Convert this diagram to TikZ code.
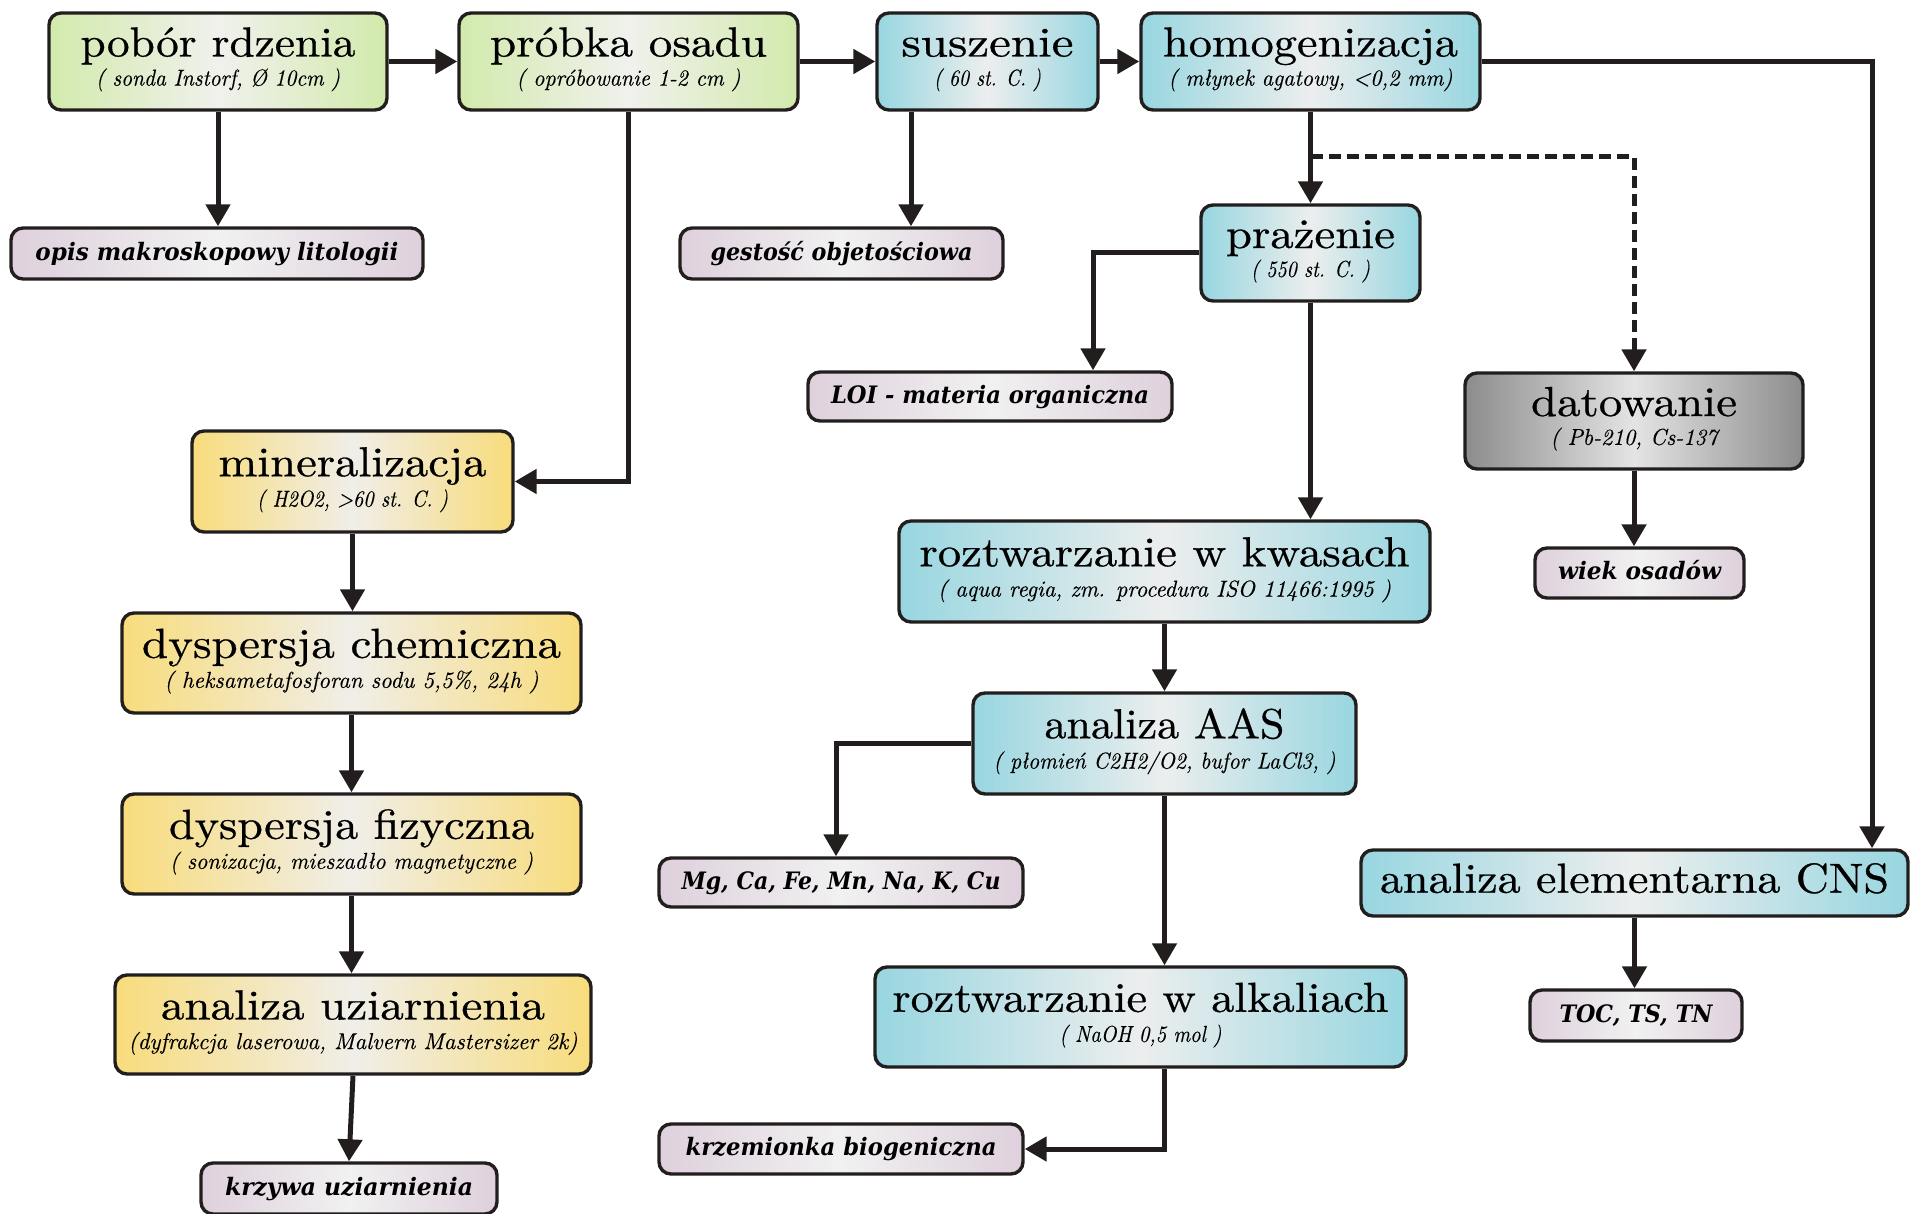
\documentclass[tikz,border=0pt]{standalone}
\usepackage{fontspec}
\usepackage{graphicx}
\usetikzlibrary{arrows.meta,calc,fit}
\newfontfamily\resfont{DejaVu Serif}
\newfontfamily\ttlfont{lmroman10-regular.otf}[FakeBold=0.6]
\newfontfamily\subfont{lmroman10-italic.otf}[FakeBold=0.3]
\definecolor{lineC}{RGB}{35,30,30}
\definecolor{grnE}{RGB}{210,234,172}
\definecolor{grnM}{RGB}{240,241,236}
\definecolor{cyaE}{RGB}{152,214,224}
\definecolor{cyaM}{RGB}{236,238,238}
\definecolor{yelE}{RGB}{248,220,124}
\definecolor{yelM}{RGB}{240,238,232}
\definecolor{resE}{RGB}{222,208,220}
\definecolor{resM}{RGB}{241,241,241}
\definecolor{gryE}{RGB}{140,140,140}
\definecolor{gryM}{RGB}{228,228,228}
\tikzset{
  boxbase/.style={draw=lineC, line width=1.7pt, rounded corners=6pt, inner sep=0pt},
  grnbox/.style={boxbase, left color=grnE, right color=grnE, middle color=grnM},
  cyabox/.style={boxbase, left color=cyaE, right color=cyaE, middle color=cyaM},
  yelbox/.style={boxbase, left color=yelE, right color=yelE, middle color=yelM},
  grybox/.style={boxbase, left color=gryE, right color=gryE, middle color=gryM},
  resbox/.style={boxbase, left color=resE, right color=resE, middle color=resM},
  arr/.style={draw=lineC, line width=2.5pt, -{Triangle[length=11pt,width=12pt]}},
  dsh/.style={arr, dash pattern=on 6pt off 3pt},
}
\newcommand\ttlat[3]{\node[anchor=base, inner sep=0pt] (#1-t) at ($(#1.north)!0.45!(#1.south)$) {\resizebox{#2pt}{\height}{\ttlfont\fontsize{21}{23}\selectfont #3}};}
\newcommand\ttlmid[3]{\node[anchor=base, inner sep=0pt] (#1-t) at ($(#1.north)!0.64!(#1.south)$) {\resizebox{#2pt}{\height}{\ttlfont\fontsize{21}{23}\selectfont #3}};}
\newcommand\subat[3]{\node[anchor=base, inner sep=0pt] (#1-s) at ($(#1.north)!0.74!(#1.south)$) {\resizebox{#2pt}{\height}{\subfont\fontsize{11.5}{13}\selectfont #3}};}
\newcommand\resat[3]{\node[anchor=base, inner sep=0pt] (#1-t) at ($(#1.north)!0.63!(#1.south)$) {\resizebox{#2pt}{\height}{\resfont\bfseries\itshape\fontsize{12}{14}\selectfont #3}};}
\begin{document}
\begin{tikzpicture}[x=0.5pt,y=-0.5pt]
\useasboundingbox (0,0) rectangle (1910,1214);
% process boxes
\node[grnbox, fit={(49,13) (387,110)}] (pobor) {};
\node[grnbox, fit={(459,13) (798,110)}] (probka) {};
\node[cyabox, fit={(877,13) (1098,110)}] (susz) {};
\node[cyabox, fit={(1141,13) (1480,110)}] (homog) {};
\node[cyabox, fit={(1201,205) (1420,301)}] (praz) {};
\node[grybox, fit={(1465,373) (1803,469)}] (dat) {};
\node[yelbox, fit={(192,431) (513,532)}] (mineral) {};
\node[cyabox, fit={(899,521) (1430,622)}] (kwas) {};
\node[yelbox, fit={(122,613) (581,713)}] (chem) {};
\node[cyabox, fit={(973,693) (1356,794)}] (aas) {};
\node[yelbox, fit={(122,794) (581,894)}] (fiz) {};
\node[cyabox, fit={(1361,850) (1908,916)}] (cns) {};
\node[cyabox, fit={(875,967) (1406,1067)}] (alk) {};
\node[yelbox, fit={(115,975) (591,1074)}] (uz) {};
% titles
\ttlat{pobor}{137.5}{pobór rdzenia}
\subat{pobor}{122}{( sonda Instorf, Ø 10cm )}
\ttlat{probka}{138.5}{próbka osadu}
\subat{probka}{112}{( opróbowanie 1-2 cm )}
\ttlat{susz}{86}{suszenie}
\subat{susz}{53.5}{( 60 st. C. )}
\ttlat{homog}{147.5}{homogenizacja}
\subat{homog}{142}{( młynek agatowy, <0,2 mm)}
\ttlat{praz}{84.5}{prażenie}
\subat{praz}{59.5}{( 550 st. C. )}
\ttlat{dat}{103}{datowanie}
\subat{dat}{83.5}{( Pb-210, Cs-137}
\ttlat{mineral}{134}{mineralizacja}
\subat{mineral}{95.5}{( H2O2, >60 st. C. )}
\ttlat{kwas}{245}{roztwarzanie w kwasach}
\subat{kwas}{226.5}{( aqua regia, zm. procedura ISO 11466:1995 )}
\ttlat{chem}{209.5}{dyspersja chemiczna}
\subat{chem}{187}{( heksametafosforan sodu 5,5\%, 24h )}
\ttlat{aas}{120}{analiza AAS}
\subat{aas}{171}{( płomień C2H2/O2, bufor LaCl3, )}
\ttlat{fiz}{182.5}{dyspersja fizyczna}
\subat{fiz}{181.5}{( sonizacja, mieszadło magnetyczne )}
\ttlmid{cns}{254.5}{analiza elementarna CNS}
\ttlat{alk}{248}{roztwarzanie w alkaliach}
\subat{alk}{81}{( NaOH 0,5 mol )}
\ttlat{uz}{192}{analiza uziarnienia}
\subat{uz}{224.5}{(dyfrakcja laserowa, Malvern Mastersizer 2k)}
% result boxes
\node[resbox, fit={(11,228) (423,279)}] (opis) {};
\node[resbox, fit={(680,228) (1003,279)}] (gest) {};
\node[resbox, fit={(808,372) (1172,421)}] (loi) {};
\node[resbox, fit={(1535,548) (1744,598)}] (wiek) {};
\node[resbox, fit={(659,858) (1023,907)}] (mg) {};
\node[resbox, fit={(1530,990) (1742,1041)}] (toc) {};
\node[resbox, fit={(659,1124) (1023,1174)}] (krzem) {};
\node[resbox, fit={(201,1163) (497,1214)}] (krzyw) {};
\resat{opis}{181.5}{opis makroskopowy litologii}
\resat{gest}{131}{gestość objetościowa}
\resat{loi}{159}{LOI - materia organiczna}
\resat{wiek}{81.5}{wiek osadów}
\resat{mg}{159.5}{Mg, Ca, Fe, Mn, Na, K, Cu}
\resat{toc}{76.5}{TOC, TS, TN}
\resat{krzem}{155.5}{krzemionka biogeniczna}
\resat{krzyw}{124}{krzywa uziarnienia}
% helper coordinates
\coordinate (sx) at (911,0);
\coordinate (lx) at (1093,0);
\coordinate (mx) at (836,0);
\coordinate (rx) at (1872,0);
\coordinate (dj) at (1311,157);
% connectors
\draw[arr] (pobor.east) -- (probka.west);
\draw[arr] (probka.east) -- (susz.west);
\draw[arr] (susz.east) -- (homog.west);
\draw[arr] (pobor.south) -- (pobor.south |- opis.north);
\draw[arr] (probka.south) |- (mineral.east);
\draw[arr] (susz.south -| sx) -- (gest.north -| sx);
\draw[arr] (homog.south) -- (homog.south |- praz.north);
\draw[dsh] (dj) -| (dat.north);
\draw[arr] (praz.west) -| (lx |- loi.north);
\draw[arr] (praz.south) -- (praz.south |- kwas.north);
\draw[arr] (kwas.south -| aas.north) -- (aas.north);
\draw[arr] (aas.west) -| (mx |- mg.north);
\draw[arr] (aas.south) -- (aas.south |- alk.north);
\draw[arr] (alk.south -| aas.south) |- (krzem.east);
\draw[arr] (homog.east) -| (rx |- cns.north);
\draw[arr] (dat.south) -- (dat.south |- wiek.north);
\draw[arr] (cns.south) -- (cns.south |- toc.north);
\draw[arr] (mineral.south) -- (mineral.south |- chem.north);
\draw[arr] (chem.south) -- (chem.south |- fiz.north);
\draw[arr] (fiz.south) -- (fiz.south |- uz.north);
\draw[arr] (uz.south) -- (krzyw.north);
\end{tikzpicture}
\end{document}
